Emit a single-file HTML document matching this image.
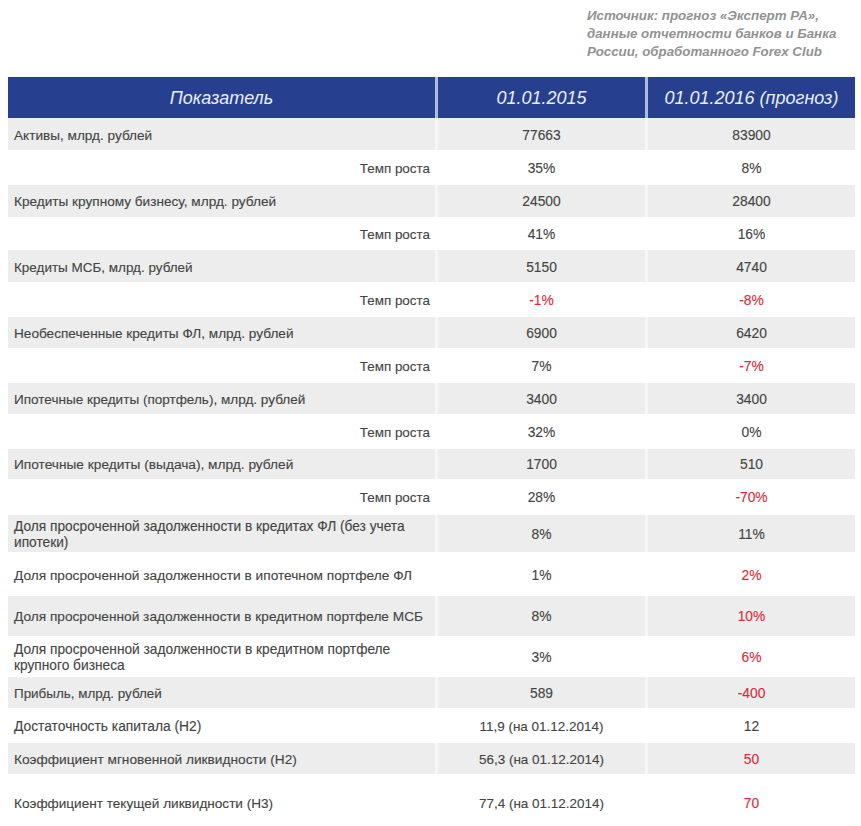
<!DOCTYPE html>
<html><head><meta charset="utf-8"><style>
html,body{margin:0;padding:0;background:#fff;width:861px;height:826px;overflow:hidden;position:relative}
body{font-family:"Liberation Sans",sans-serif;color:#444}
.c span{-webkit-text-stroke:0.12px currentColor}
.src{position:absolute;left:587px;top:7px;font-size:13.3px;line-height:18px;font-style:italic;font-weight:bold;color:#929292;white-space:nowrap}
.hdr{position:absolute;left:8px;top:77px;width:847px;height:41px;background:#263f8f}
.hdr div{position:absolute;top:1.2px;height:41px;line-height:41px;text-align:center;color:#eaeefa;font-style:italic;font-size:18px}
.hsep{position:absolute;top:77px;height:41px;width:3px;background:#abbcdc}
.row{position:absolute;left:8px;width:847px}
.row.g{background:#ecedec}
.c{position:absolute;top:1.5px;bottom:-1.5px;display:flex;align-items:center;font-size:13.8px;line-height:16px}
.c1{left:0;width:427px;padding-left:6px;box-sizing:border-box}
.c1.r{justify-content:flex-end;padding-left:0;padding-right:5px}
.c2{left:430px;width:207px;justify-content:center}
.c3{left:640px;width:207px;justify-content:center}
.row.g .c2,.row.g .c3{border-left:0}
.vs{position:absolute;width:3px;background:#f5f6f6}
.red{color:#db2a3c}
</style></head><body>
<div class="src">Источник: прогноз «Эксперт РА»,<br>данные отчетности банков и Банка<br>России, обработанного Forex Club</div>
<div class="hdr">
<div style="left:0;width:427px">Показатель</div>
<div style="left:430px;width:207px">01.01.2015</div>
<div style="left:640px;width:207px">01.01.2016 (прогноз)</div>
</div>
<div class="hsep" style="left:435px"></div>
<div class="hsep" style="left:645px"></div>
<div class="row g" style="top:118px;height:32px"><div class="vs" style="left:427px;top:0;height:32px"></div><div class="vs" style="left:637px;top:0;height:32px"></div><div class="c c1 "><span style="font-size:13.6px">Активы, млрд. рублей</span></div><div class="c c2"><span class="">77663</span></div><div class="c c3"><span class="">83900</span></div></div>
<div class="row" style="top:150px;height:35px"><div class="c c1 r"><span style="font-size:13.43px">Темп роста</span></div><div class="c c2"><span class="">35%</span></div><div class="c c3"><span class="">8%</span></div></div>
<div class="row g" style="top:185px;height:31.5px"><div class="vs" style="left:427px;top:0;height:31.5px"></div><div class="vs" style="left:637px;top:0;height:31.5px"></div><div class="c c1 "><span style="font-size:13.62px">Кредиты крупному бизнесу, млрд. рублей</span></div><div class="c c2"><span class="">24500</span></div><div class="c c3"><span class="">28400</span></div></div>
<div class="row" style="top:216.5px;height:33.5px"><div class="c c1 r"><span style="font-size:13.43px">Темп роста</span></div><div class="c c2"><span class="">41%</span></div><div class="c c3"><span class="">16%</span></div></div>
<div class="row g" style="top:250px;height:32px"><div class="vs" style="left:427px;top:0;height:32px"></div><div class="vs" style="left:637px;top:0;height:32px"></div><div class="c c1 "><span style="font-size:13.47px">Кредиты МСБ, млрд. рублей</span></div><div class="c c2"><span class="">5150</span></div><div class="c c3"><span class="">4740</span></div></div>
<div class="row" style="top:282px;height:34.5px"><div class="c c1 r"><span style="font-size:13.43px">Темп роста</span></div><div class="c c2"><span class="red">-1%</span></div><div class="c c3"><span class="red">-8%</span></div></div>
<div class="row g" style="top:316.5px;height:31.0px"><div class="vs" style="left:427px;top:0;height:31.0px"></div><div class="vs" style="left:637px;top:0;height:31.0px"></div><div class="c c1 "><span style="font-size:13.61px">Необеспеченные кредиты ФЛ, млрд. рублей</span></div><div class="c c2"><span class="">6900</span></div><div class="c c3"><span class="">6420</span></div></div>
<div class="row" style="top:347.5px;height:35.5px"><div class="c c1 r"><span style="font-size:13.43px">Темп роста</span></div><div class="c c2"><span class="">7%</span></div><div class="c c3"><span class="red">-7%</span></div></div>
<div class="row g" style="top:383px;height:31px"><div class="vs" style="left:427px;top:0;height:31px"></div><div class="vs" style="left:637px;top:0;height:31px"></div><div class="c c1 "><span style="font-size:13.55px">Ипотечные кредиты (портфель), млрд. рублей</span></div><div class="c c2"><span class="">3400</span></div><div class="c c3"><span class="">3400</span></div></div>
<div class="row" style="top:414px;height:34.5px"><div class="c c1 r"><span style="font-size:13.43px">Темп роста</span></div><div class="c c2"><span class="">32%</span></div><div class="c c3"><span class="">0%</span></div></div>
<div class="row g" style="top:448.5px;height:30.5px"><div class="vs" style="left:427px;top:0;height:30.5px"></div><div class="vs" style="left:637px;top:0;height:30.5px"></div><div class="c c1 "><span style="font-size:13.7px">Ипотечные кредиты (выдача), млрд. рублей</span></div><div class="c c2"><span class="">1700</span></div><div class="c c3"><span class="">510</span></div></div>
<div class="row" style="top:479px;height:35.5px"><div class="c c1 r"><span style="font-size:13.43px">Темп роста</span></div><div class="c c2"><span class="">28%</span></div><div class="c c3"><span class="red">-70%</span></div></div>
<div class="row g" style="top:514.5px;height:37.5px"><div class="vs" style="left:427px;top:0;height:37.5px"></div><div class="vs" style="left:637px;top:0;height:37.5px"></div><div class="c c1 "><span style="font-size:13.72px">Доля просроченной задолженности в кредитах ФЛ (без учета<br>ипотеки)</span></div><div class="c c2"><span class="">8%</span></div><div class="c c3"><span class="">11%</span></div></div>
<div class="row" style="top:552px;height:44px"><div class="c c1 "><span style="font-size:13.7px">Доля просроченной задолженности в ипотечном портфеле ФЛ</span></div><div class="c c2"><span class="">1%</span></div><div class="c c3"><span class="red">2%</span></div></div>
<div class="row g" style="top:596px;height:39.5px"><div class="vs" style="left:427px;top:0;height:39.5px"></div><div class="vs" style="left:637px;top:0;height:39.5px"></div><div class="c c1 "><span style="font-size:13.68px">Доля просроченной задолженности в кредитном портфеле МСБ</span></div><div class="c c2"><span class="">8%</span></div><div class="c c3"><span class="red">10%</span></div></div>
<div class="row" style="top:635.5px;height:41.0px"><div class="c c1 "><span style="font-size:13.73px">Доля просроченной задолженности в кредитном портфеле<br>крупного бизнеса</span></div><div class="c c2"><span class="">3%</span></div><div class="c c3"><span class="red">6%</span></div></div>
<div class="row g" style="top:676.5px;height:31.5px"><div class="vs" style="left:427px;top:0;height:31.5px"></div><div class="vs" style="left:637px;top:0;height:31.5px"></div><div class="c c1 "><span style="font-size:13.43px">Прибыль, млрд. рублей</span></div><div class="c c2"><span class="">589</span></div><div class="c c3"><span class="red">-400</span></div></div>
<div class="row" style="top:708px;height:35px"><div class="c c1 "><span style="font-size:13.8px">Достаточность капитала (Н2)</span></div><div class="c c2"><span class="" style="font-size:13.47px">11,9 (на 01.12.2014)</span></div><div class="c c3"><span class="">12</span></div></div>
<div class="row g" style="top:743px;height:31px"><div class="vs" style="left:427px;top:0;height:31px"></div><div class="vs" style="left:637px;top:0;height:31px"></div><div class="c c1 "><span style="font-size:13.7px">Коэффициент мгновенной ликвидности (Н2)</span></div><div class="c c2"><span class="" style="font-size:13.47px">56,3 (на 01.12.2014)</span></div><div class="c c3"><span class="red">50</span></div></div>
<div class="row" style="top:774px;height:56px"><div class="c c1 "><span style="font-size:13.59px">Коэффициент текущей ликвидности (Н3)</span></div><div class="c c2"><span class="" style="font-size:13.47px">77,4 (на 01.12.2014)</span></div><div class="c c3"><span class="red">70</span></div></div>
</body></html>
